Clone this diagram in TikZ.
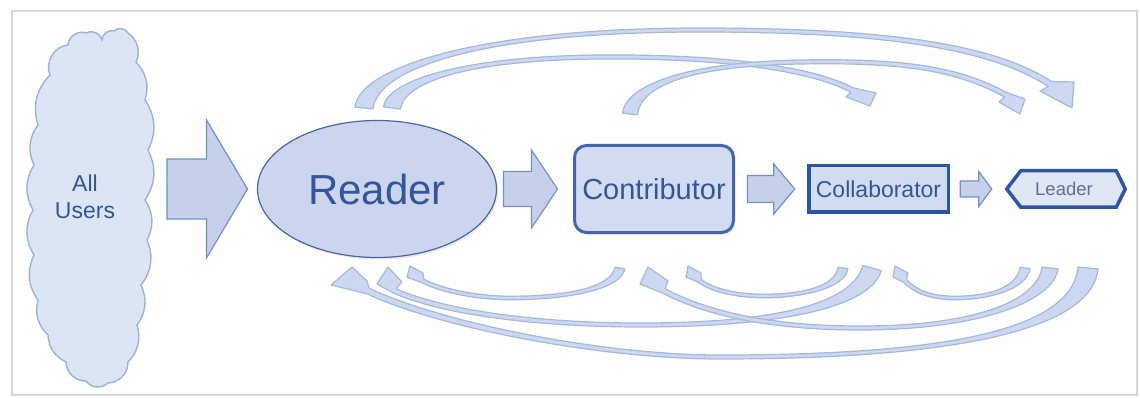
\documentclass[tikz,border=0pt]{standalone}
\usepackage{fontspec}
\setmainfont{Liberation Sans}
\usetikzlibrary{calc,shapes.geometric,shadows}

\definecolor{framegray}{HTML}{D6D6D6}
\definecolor{cloudfill}{HTML}{DCE5F4}
\definecolor{cloudline}{HTML}{9DB1DA}
\definecolor{arrowfill}{HTML}{C5D1EB}
\definecolor{arrowline}{HTML}{7590C6}
\definecolor{bandfill}{HTML}{CCD8EF}
\definecolor{bandline}{HTML}{A5B8DF}
\definecolor{deepblue}{HTML}{2E55A5}
\definecolor{readerline}{HTML}{4A67A6}
\definecolor{readerfill}{HTML}{CBD6EE}
\definecolor{textblue}{HTML}{35559B}
\definecolor{boxfill}{HTML}{D2DCF0}
\definecolor{leaderfill}{HTML}{DFE6F4}
\definecolor{leadertext}{HTML}{5F6F95}

\tikzset{
  blockarrow/.style={fill=arrowfill, draw=arrowline, line width=1.2pt, line join=miter},
  bandarrow/.style={fill=bandfill, draw=bandline, line width=1.2pt, line join=round},
  softshadow/.style={drop shadow={opacity=0.18, shadow xshift=1.5pt, shadow yshift=-2pt}},
  label/.style={text=textblue, inner sep=0pt, outer sep=0pt, align=center},
  puff/.style={bend left=#1},
}

% straight block arrow from coordinate #1 to tip #2
% #3 shaft half width, #4 head half width, #5 head length
\newcommand\blockarrow[5]{%
  \draw[blockarrow] ($(#1)+(0,-#3)$) -- ($(#2)+(-#5,-#3)$) -- ($(#2)+(-#5,-#4)$) -- (#2)
    -- ($(#2)+(-#5,#4)$) -- ($(#2)+(-#5,#3)$) -- ($(#1)+(0,#3)$) -- cycle;}

% centre line of a curved arrow: tail, two controls, apex, two controls, head base
\newcommand\defband[8]{%
  \coordinate (#1-t) at (#2); \coordinate (#1-a1) at (#3); \coordinate (#1-a2) at (#4);
  \coordinate (#1-m) at (#5); \coordinate (#1-b1) at (#6); \coordinate (#1-b2) at (#7);
  \coordinate (#1-h) at (#8);}
% arrow head: outer corner, tip, inner barb
\newcommand\defhead[4]{%
  \coordinate (#1-L) at (#2); \coordinate (#1-T) at (#3); \coordinate (#1-B) at (#4);}
% tapered band: half widths at tail, apex and head
\newcommand\drawband[4]{%
  \coordinate (#1-ot) at ($(#1-t)!#2!90:(#1-a1)$);
  \coordinate (#1-it) at ($(#1-t)!#2!-90:(#1-a1)$);
  \coordinate (#1-oa1) at ($(#1-a1)!#2!-90:(#1-t)$);
  \coordinate (#1-ia1) at ($(#1-a1)!#2!90:(#1-t)$);
  \coordinate (#1-oa2) at ($(#1-a2)!#3!90:(#1-m)$);
  \coordinate (#1-ia2) at ($(#1-a2)!#3!-90:(#1-m)$);
  \coordinate (#1-om) at ($(#1-m)!#3!-90:(#1-a2)$);
  \coordinate (#1-im) at ($(#1-m)!#3!90:(#1-a2)$);
  \coordinate (#1-ob1) at ($(#1-b1)!#3!-90:(#1-m)$);
  \coordinate (#1-ib1) at ($(#1-b1)!#3!90:(#1-m)$);
  \coordinate (#1-ob2) at ($(#1-b2)!#4!90:(#1-h)$);
  \coordinate (#1-ib2) at ($(#1-b2)!#4!-90:(#1-h)$);
  \coordinate (#1-oh) at ($(#1-h)!#4!-90:(#1-b2)$);
  \coordinate (#1-ih) at ($(#1-h)!#4!90:(#1-b2)$);
  \draw[bandarrow] (#1-ot) .. controls (#1-oa1) and (#1-oa2) .. (#1-om)
    .. controls (#1-ob1) and (#1-ob2) .. (#1-oh) -- (#1-L) -- (#1-T) -- (#1-B) -- (#1-ih)
    .. controls (#1-ib2) and (#1-ib1) .. (#1-im)
    .. controls (#1-ia2) and (#1-ia1) .. (#1-it) -- cycle;}

\begin{document}
\begin{tikzpicture}[x=1pt,y=-1pt]
\useasboundingbox (0,0) rectangle (1140,398);
\fill[white] (0,0) rectangle (1140,398);
\draw[framegray, line width=1.8pt] (12,11) rectangle (1137,395);

% ---- the user cloud
\draw[fill=cloudfill, draw=cloudline, line width=1.4pt]
  (50,75) to[puff=55] (68,45) to[puff=55] (86,33) to[puff=55] (102,40)
  to[puff=55] (114,31) to[puff=55] (128,33) to[puff=40] (136,62)
  to[puff=30] (145,100) to[puff=30] (148,150) to[puff=30] (145,200)
  to[puff=30] (147,240) to[puff=30] (141,285) to[puff=30] (137,325)
  to[puff=30] (128,362) to[puff=45] (108,383) to[puff=50] (86,381)
  to[puff=45] (66,362) to[puff=30] (48,335) to[puff=30] (38,300)
  to[puff=30] (34,255) to[puff=30] (33,210) to[puff=30] (34,165)
  to[puff=30] (38,125) to[puff=30] (50,75) -- cycle;
\node[label, font=\fontsize{23pt}{27pt}\selectfont] (users) at (85,197) {All\\Users};
\coordinate (cloudedge) at (150,189);

% ---- stages
\node[ellipse, draw=readerline, fill=readerfill, line width=1.2pt, minimum width=239pt,
      minimum height=137pt, inner sep=0pt, outer sep=0pt, softshadow] (reader) at (377,189) {};
\node[label, font=\fontsize{42pt}{48pt}\selectfont] at (reader.center) {Reader};

\node[rectangle, rounded corners=12pt, draw=deepblue!90, fill=boxfill, line width=3pt,
      minimum width=159pt, minimum height=87pt, inner sep=0pt, outer sep=0pt, softshadow]
      (contrib) at (654,189) {};
\node[label, font=\fontsize{29pt}{34pt}\selectfont] at (contrib.center) {Contributor};

\node[rectangle, draw=deepblue, fill=boxfill, line width=3.5pt,
      minimum width=139.5pt, minimum height=46.5pt, inner sep=0pt, outer sep=0pt, softshadow]
      (collab) at (878.5,189) {};
\node[label, font=\fontsize{23pt}{27pt}\selectfont] at (collab.center) {Collaborator};

\node[minimum width=118.5pt, minimum height=36.5pt, inner sep=0pt, outer sep=0pt]
      (leader) at (1066,189) {};
\draw[draw=deepblue, fill=leaderfill, line width=3.5pt, line join=miter, softshadow]
  (leader.west) -- ($(leader.north west)+(14,0)$) -- ($(leader.north east)+(-9,0)$)
  -- (leader.east) -- ($(leader.south east)+(-9,0)$) -- ($(leader.south west)+(14,0)$) -- cycle;
\node[label, text=leadertext, font=\fontsize{18.5pt}{22pt}\selectfont] at ($(leader.center)+(-2,0)$) {Leader};

% ---- straight steps
\coordinate (a1s) at ($(cloudedge)+(17,0)$);
\coordinate (a1e) at ($(reader.west)+(-10,0)$);
\coordinate (a2s) at ($(reader.east)+(7,0)$);
\coordinate (a2e) at ($(contrib.west)+(-17,0)$);
\coordinate (a3s) at ($(contrib.east)+(14,0)$);
\coordinate (a3e) at ($(collab.west)+(-14,0)$);
\coordinate (a4s) at ($(collab.east)+(12,0)$);
\coordinate (a4e) at ($(leader.west)+(-15,0)$);
\blockarrow{a1s}{a1e}{30}{69}{41}
\blockarrow{a2s}{a2e}{17.5}{39}{26}
\blockarrow{a3s}{a3e}{13.5}{25}{21}
\blockarrow{a4s}{a4e}{8}{17.5}{13}

% ---- forward jumps above
\defband{rl}{364,108}{368,68}{480,30}{700,30}{880,30}{990,45}{1050,84}
\defhead{rl}{1074,82}{1072,108}{1040,91}
\drawband{rl}{9pt}{2pt}{3pt}

\defband{rc}{392,108}{396,80}{470,58}{600,57}{720,56}{810,68}{852,90}
\defhead{rc}{876,93}{870,106}{846,97}
\drawband{rc}{8.5pt}{2pt}{2.5pt}

\defband{cl}{630,114}{633,85}{690,64}{800,62}{910,60}{960,70}{1006,95}
\defhead{cl}{1025,99}{1020,114}{999,102}
\drawband{cl}{7.5pt}{2pt}{2.5pt}

% ---- backward steps below
\defband{lr}{1088,268}{1082,330}{950,357}{720,357}{600,357}{440,325}{368,291}
\defhead{lr}{331,285}{352,267}{367,281}
\drawband{lr}{10pt}{2pt}{3pt}

\defband{cr}{872,268}{862,305}{780,325}{640,325}{540,325}{445,313}{395,291}
\defhead{cr}{377,284}{388,267}{402,282}
\drawband{cr}{9.5pt}{2pt}{2.5pt}

\defband{tr}{620,268}{616,288}{570,298}{510,298}{475,298}{440,290}{423,281}
\defhead{tr}{407,277}{410,266}{423,273}
\drawband{tr}{5pt}{1.8pt}{2pt}

\defband{lt}{1050,268}{1046,300}{980,328}{860,328}{760,328}{700,310}{664,291}
\defhead{lt}{640,284}{648,267}{668,281}
\drawband{lt}{8pt}{2pt}{2.5pt}

\defband{ct}{843,268}{840,288}{800,296}{765,296}{735,296}{712,290}{700,281}
\defhead{ct}{686,277}{688,266}{701,273}
\drawband{ct}{5pt}{1.8pt}{2pt}

\defband{lc}{1025,268}{1022,288}{990,298}{955,298}{928,298}{914,290}{905,281}
\defhead{lc}{893,277}{895,266}{908,273}
\drawband{lc}{5pt}{1.8pt}{2pt}
\end{tikzpicture}
\end{document}
